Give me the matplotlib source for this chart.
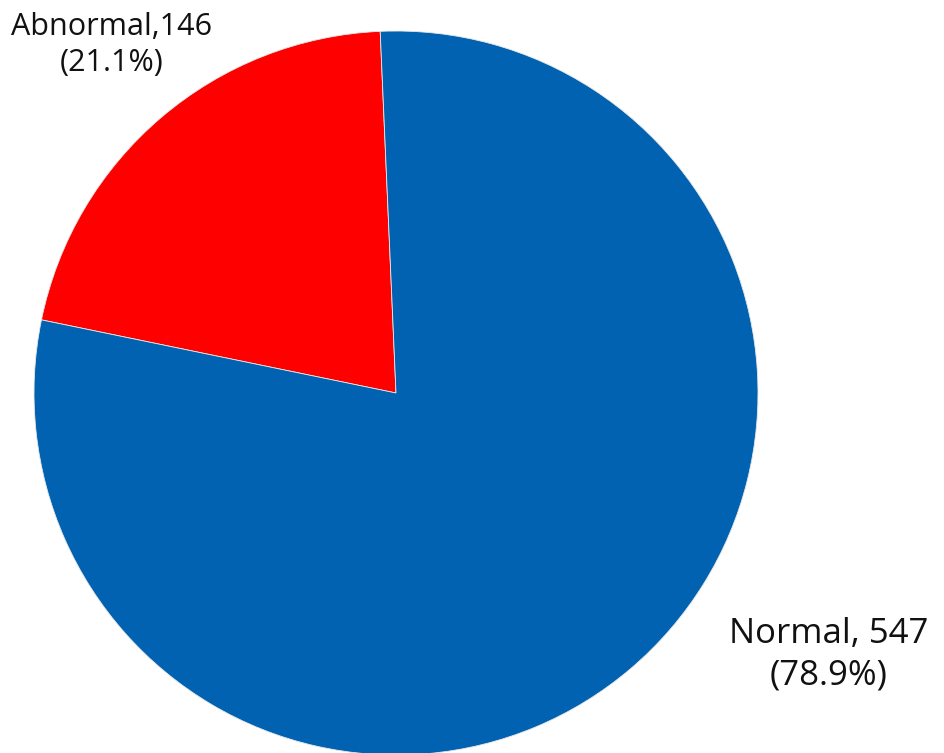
import matplotlib.pyplot as plt

# Data
labels = ["Abnormal", "Normal"]
counts = [146, 547]
colors = ["#FF0000", "#0062B0"]

total = sum(counts)
pcts = [c / total * 100 for c in counts]

fig = plt.figure(figsize=(9.45, 7.53), dpi=100)
ax = fig.add_axes([0, 0, 1, 1])

ax.pie(
    counts,
    colors=colors,
    startangle=92.5,
    counterclock=True,
    radius=362,
    center=(396, 360),
    wedgeprops=dict(edgecolor="#e8e8e8", linewidth=0.6),
)

ax.set_xlim(0, 945)
ax.set_ylim(0, 753)
ax.set_aspect("equal")
ax.axis("off")

font = dict(family=["Open Sans", "DejaVu Sans"], color="#111111",
            ha="center", va="center", linespacing=1.3)

ax.text(112, 753 - 45, f"{labels[0]},{counts[0]}\n({pcts[0]:.1f}%)",
        fontsize=22, **font)
ax.text(829, 753 - 655, f"{labels[1]}, {counts[1]}\n({pcts[1]:.1f}%)",
        fontsize=25, **font)

fig.savefig("out.png", dpi=100)
